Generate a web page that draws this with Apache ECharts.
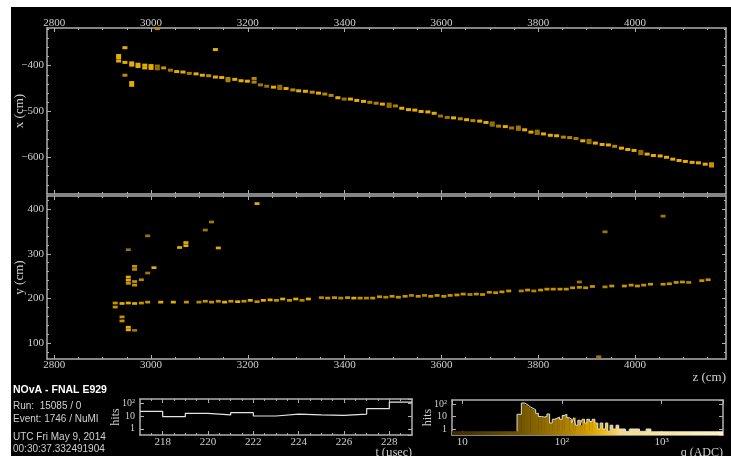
<!DOCTYPE html>
<html>
<head>
<meta charset="utf-8">
<script src="https://cdn.jsdelivr.net/npm/echarts@6/dist/echarts.min.js"></script>
<style>
  html, body { margin: 0; padding: 0; background: #fff; }
  #bg { position: absolute; left: 11px; top: 7px; width: 720px; height: 449px; background: #000; }
  #main { position: absolute; left: 0; top: 0; width: 731px; height: 456px; }
</style>
</head>
<body>
<div id="bg"></div>
<div id="main"></div>
<script>
// hits in the x-z view: [z (cm), x (cm), q (ADC)]
var xzHits = [
  [2946, -361, 220],
  [2933, -378, 220], [2933, -383, 220], [2933, -390, 220],
  [2946, -393, 220], [2946, -421, 130],
  [2960, -394, 220], [2960, -399, 220], [2960, -437, 220], [2960, -443, 220],
  [2973, -397, 220], [2973, -402, 220],
  [2987, -399, 220], [2987, -405, 220],
  [3000, -400, 220], [3000, -406, 220],
  [3013, -401, 70], [3013, -407, 70],
  [3026, -405, 150], [3040, -410, 90], [3053, -413, 220], [3066, -414, 220],
  [3079, -417, 100], [3093, -418, 220], [3106, -421, 220], [3119, -422, 130],
  [3133, -425, 220], [3146, -426, 220],
  [3159, -428, 110], [3159, -433, 110],
  [3173, -430, 220], [3186, -433, 220], [3199, -434, 220],
  [3213, -428, 120], [3213, -436, 120],
  [3226, -442, 90], [3239, -445, 80], [3253, -447, 220],
  [3266, -445, 70], [3266, -450, 70],
  [3279, -450, 220], [3293, -453, 130], [3305, -455, 220], [3319, -456, 220],
  [3333, -458, 140], [3346, -460, 220], [3359, -462, 120], [3372, -465, 120],
  [3386, -470, 220], [3399, -473, 90], [3412, -473, 220], [3425, -476, 220],
  [3439, -478, 220], [3452, -480, 110], [3465, -482, 110], [3478, -484, 220],
  [3492, -484, 70], [3492, -489, 70],
  [3505, -488, 110], [3518, -493, 220], [3532, -496, 220], [3545, -497, 220],
  [3558, -500, 220], [3572, -501, 220], [3585, -504, 220], [3598, -510, 80],
  [3612, -513, 90], [3625, -514, 220], [3639, -516, 120], [3652, -518, 220],
  [3665, -520, 120], [3679, -521, 220], [3692, -524, 220],
  [3705, -525, 70], [3705, -530, 70],
  [3718, -532, 110], [3732, -533, 220], [3745, -536, 90],
  [3759, -534, 80], [3759, -539, 80],
  [3772, -540, 220], [3785, -545, 220],
  [3798, -543, 70], [3798, -548, 70],
  [3811, -549, 220], [3825, -552, 220], [3838, -553, 220], [3852, -556, 120],
  [3865, -557, 120], [3878, -559, 100], [3892, -564, 220],
  [3905, -563, 70], [3905, -568, 70],
  [3918, -569, 220], [3932, -572, 220], [3945, -573, 220], [3958, -576, 120],
  [3972, -580, 220], [3985, -583, 220], [3998, -585, 220],
  [4012, -587, 70], [4012, -592, 70],
  [4025, -593, 220], [4038, -596, 220], [4052, -597, 220], [4065, -600, 220],
  [4078, -604, 220], [4091, -607, 220], [4104, -609, 220], [4118, -611, 220],
  [4131, -612, 220], [4145, -615, 220],
  [4158, -614, 150], [4158, -619, 150],
  [3133, -365, 220], [3013, -319, 130]
];

// hits in the y-z view: [z (cm), y (cm), q (ADC)]
var yzHits = [
  [2926, 190, 150], [2926, 181, 150],
  [2940, 189, 220], [2940, 159, 150], [2940, 150, 150],
  [2953, 190, 220], [2953, 248, 220], [2953, 241, 220], [2953, 234, 150],
  [2953, 309, 80], [2953, 136, 220], [2953, 130, 220],
  [2966, 189, 220], [2966, 129, 90], [2966, 272, 150], [2966, 265, 130],
  [2966, 238, 150], [2966, 230, 150],
  [2980, 190, 150], [2980, 242, 120],
  [2993, 192, 150], [2993, 257, 90], [2993, 340, 80],
  [3006, 269, 220], [3020, 192, 220], [3046, 192, 220], [3059, 314, 220],
  [3072, 325, 220], [3072, 318, 220], [3073, 192, 150],
  [3099, 192, 120], [3112, 194, 150], [3112, 353, 90],
  [3125, 192, 150], [3125, 371, 100], [3139, 313, 220], [3139, 194, 150],
  [3152, 192, 220], [3165, 194, 150], [3179, 193, 220], [3192, 194, 150],
  [3205, 196, 220], [3219, 193, 150], [3219, 412, 220], [3232, 196, 220],
  [3246, 197, 220], [3259, 196, 150], [3272, 199, 220], [3286, 196, 150],
  [3299, 199, 220], [3312, 196, 120], [3325, 199, 220],
  [3352, 202, 120], [3365, 201, 150], [3379, 202, 150], [3392, 201, 120],
  [3406, 202, 150], [3419, 201, 220], [3432, 201, 150], [3445, 201, 120],
  [3458, 201, 150], [3472, 204, 150], [3485, 203, 120], [3498, 205, 150],
  [3511, 203, 150], [3525, 205, 150], [3538, 207, 120], [3552, 205, 150],
  [3565, 207, 120], [3578, 205, 150], [3591, 207, 150], [3605, 205, 150],
  [3618, 207, 150], [3632, 208, 150], [3645, 210, 150], [3659, 209, 120],
  [3672, 210, 150], [3685, 209, 150], [3699, 214, 150], [3712, 213, 150],
  [3725, 215, 150], [3739, 217, 150], [3765, 217, 120], [3778, 219, 150],
  [3791, 217, 120], [3805, 219, 150], [3818, 221, 150], [3831, 221, 150],
  [3845, 221, 150], [3858, 221, 150], [3871, 224, 150], [3885, 225, 150],
  [3885, 237, 90], [3898, 224, 150], [3912, 227, 150], [3925, 70, 90],
  [3938, 226, 120], [3938, 349, 90], [3952, 228, 150], [3978, 228, 150],
  [3992, 230, 150], [4005, 228, 150], [4018, 230, 150], [4032, 232, 150],
  [4058, 232, 150], [4058, 384, 90], [4071, 233, 150], [4085, 236, 150],
  [4098, 237, 150], [4111, 236, 120], [4138, 240, 150], [4151, 242, 150]
];

// timing histogram, 1 usec bins
var tLow = [217, 218, 219, 220, 221, 222, 223, 224, 225, 226, 227, 228];
var tCount = [23, 9, 16, 12, 18, 10, 14, 12, 11, 14, 38, 120];
var tTop = 229;

// charge histogram
var qLow = [35.5, 39.2, 42.3, 45.7, 48.2, 51.3, 54.6, 58.0, 62.1, 67.1, 70.8, 75.3, 80.0, 84.5,
  89.8, 94.8, 100.7, 106.3, 112, 119, 126, 131, 137, 144.5, 152.5, 159.7, 168.5, 177.8,
  189, 201, 213.8, 229, 241.7, 257, 273.4, 288.4, 304, 323.6, 349, 371.5, 407, 433, 475,
  505, 540, 600, 700];
var qCount = [15, 120, 85, 60, 45, 35, 18, 10, 9, 10, 16, 3, 6, 7,
  9, 6, 12, 15, 8, 6, 3, 8, 2, 5, 2, 6, 3, 6,
  4, 6, 3, 1, 3, 1, 3, 0, 2, 1, 2, 1, 1, 0, 1,
  1, 1, 0, 1];
var qTop = 780;

// tick labels
var zTicks = [2800, 3000, 3200, 3400, 3600, 3800, 4000];
var xTicks = [-600, -500, -400];
var yTicks = [100, 200, 300, 400];
var tTicks = [218, 220, 222, 224, 226, 228];

var Z_RANGE = [2785, 4188];
var X_RANGE = [-680, -318];
var Y_RANGE = [65, 429];
var T_RANGE = [217, 229];
var Q_RANGE = [7.9, 4130];
var N_RANGE = [0.33, 210];
var Q_FLOOR = 0.65;

var SERIF = '"Liberation Serif", "DejaVu Serif", serif';
var SANS = '"Liberation Sans", "DejaVu Sans", sans-serif';
var FRAME = '#b0b0b0';
var TEXT = '#d0d0d0';

// charge colour scale
var palQ = [8, 35, 100, 200, 260, 400, 4000];
var palC = ['#3a2c04', '#6e5200', '#a67c00', '#dca400', '#f2bc10', '#f4dc8c', '#fff2c4'];

function rgb(h) {
  return [parseInt(h.substr(1, 2), 16), parseInt(h.substr(3, 2), 16), parseInt(h.substr(5, 2), 16)];
}
function qColor(q) {
  if (q <= palQ[0]) return palC[0];
  for (var i = 0; i < palQ.length - 1; i++) {
    if (q <= palQ[i + 1]) {
      var f = (Math.log(q) - Math.log(palQ[i])) / (Math.log(palQ[i + 1]) - Math.log(palQ[i]));
      var a = rgb(palC[i]), b = rgb(palC[i + 1]);
      return 'rgb(' + [0, 1, 2].map(function (k) { return Math.round(a[k] + (b[k] - a[k]) * f); }).join(',') + ')';
    }
  }
  return palC[palC.length - 1];
}

function steps(lo, hi, step, skip) {
  var out = [];
  for (var v = lo; v <= hi + 1e-9; v += step) {
    var r = Math.round(v * 100) / 100;
    if (skip.indexOf(r) < 0) out.push(r);
  }
  return out;
}
var zMinor = steps(2800, 4150, 50, zTicks);
var xMinor = steps(-660, -320, 20, xTicks);
var yMinor = steps(80, 420, 20, yTicks);
var tMinor = steps(217.5, 228.5, 0.5, tTicks);

var SUP = { 2: '\u00b2', 3: '\u00b3' };
function powLabel(v) {
  var l = Math.log10(v), e = Math.round(l);
  if (Math.abs(l - e) > 1e-6) return '';
  return e === 0 ? '1' : e === 1 ? '10' : '10' + SUP[e];
}
function plain(v) { return String(v).replace('-', '\u2212'); }

function frameAxis(grid, pos, type, range, ticks, len) {
  var ax = {
    type: type, gridIndex: grid, position: pos,
    min: range[0], max: range[1],
    axisLine: { show: len > 3, onZero: false, lineStyle: { color: FRAME, width: 1.5 } },
    axisTick: { show: true, inside: true, length: len, lineStyle: { color: FRAME, width: 1 } },
    axisLabel: { show: false },
    splitLine: { show: false },
    axisPointer: { show: false }
  };
  if (ticks) ax.axisTick.customValues = ticks;
  if (type === 'log') ax.logBase = 10;
  return ax;
}
function label(ax, opts) {
  ax.axisLabel = Object.assign({ show: true, color: TEXT, fontFamily: SERIF, fontSize: 11, formatter: plain }, opts);
  return ax;
}
function nameIt(ax, name, opts) {
  ax.name = name;
  ax.nameMoveOverlap = false;
  Object.assign(ax, opts);
  ax.nameTextStyle = Object.assign({ color: TEXT, fontFamily: SERIF, fontSize: 13 }, ax.nameTextStyle || {});
  return ax;
}

var xAxes = [
  // grid 0 : x-z view
  label(frameAxis(0, 'top', 'value', Z_RANGE, zTicks, 4), { customValues: zTicks, margin: -1 }),
  frameAxis(0, 'top', 'value', Z_RANGE, zMinor, 2),
  frameAxis(0, 'bottom', 'value', Z_RANGE, zTicks, 4),
  frameAxis(0, 'bottom', 'value', Z_RANGE, zMinor, 2),
  // grid 1 : y-z view
  nameIt(label(frameAxis(1, 'bottom', 'value', Z_RANGE, zTicks, 4), { customValues: zTicks, margin: 1 }),
    'z (cm)', { nameLocation: 'end', nameGap: 0, nameTextStyle: { align: 'right', verticalAlign: 'top', padding: [12, 0, 0, 0] } }),
  frameAxis(1, 'bottom', 'value', Z_RANGE, zMinor, 2),
  frameAxis(1, 'top', 'value', Z_RANGE, zTicks, 4),
  frameAxis(1, 'top', 'value', Z_RANGE, zMinor, 2),
  // grid 2 : time
  nameIt(label(frameAxis(2, 'bottom', 'value', T_RANGE, tTicks, 4), { customValues: tTicks, margin: 2, fontSize: 11 }),
    't (\u00b5sec)', { nameLocation: 'end', nameGap: 0, nameTextStyle: { fontSize: 12, align: 'right', verticalAlign: 'top', padding: [12, 0, 0, 0] } }),
  frameAxis(2, 'bottom', 'value', T_RANGE, tMinor, 2),
  frameAxis(2, 'top', 'value', T_RANGE, tTicks, 4),
  frameAxis(2, 'top', 'value', T_RANGE, tMinor, 2),
  // grid 3 : charge
  nameIt(label(frameAxis(3, 'bottom', 'log', Q_RANGE, null, 4), { formatter: powLabel, margin: 2, showMinLabel: false, showMaxLabel: false }),
    'q (ADC)', { nameLocation: 'end', nameGap: 0, nameTextStyle: { fontSize: 12, align: 'right', verticalAlign: 'top', padding: [12, 0, 0, 0] } }),
  frameAxis(3, 'top', 'log', Q_RANGE, null, 4)
];

var yAxes = [
  nameIt(label(frameAxis(0, 'left', 'value', X_RANGE, xTicks, 4), { customValues: xTicks, margin: 3 }),
    'x (cm)', { nameLocation: 'middle', nameGap: 21 }),
  frameAxis(0, 'left', 'value', X_RANGE, xMinor, 2),
  frameAxis(0, 'right', 'value', X_RANGE, xTicks, 4),
  frameAxis(0, 'right', 'value', X_RANGE, xMinor, 2),
  nameIt(label(frameAxis(1, 'left', 'value', Y_RANGE, yTicks, 4), { customValues: yTicks, margin: 3 }),
    'y (cm)', { nameLocation: 'middle', nameGap: 21 }),
  frameAxis(1, 'left', 'value', Y_RANGE, yMinor, 2),
  frameAxis(1, 'right', 'value', Y_RANGE, yTicks, 4),
  frameAxis(1, 'right', 'value', Y_RANGE, yMinor, 2),
  nameIt(label(frameAxis(2, 'left', 'log', N_RANGE, null, 4), { formatter: powLabel, margin: 5, fontSize: 10, showMinLabel: false, showMaxLabel: false }),
    'hits', { nameLocation: 'middle', nameGap: 18, nameTextStyle: { fontSize: 12 } }),
  frameAxis(2, 'right', 'log', N_RANGE, null, 4),
  nameIt(label(frameAxis(3, 'left', 'log', N_RANGE, null, 4), { formatter: powLabel, margin: 5, fontSize: 10, showMinLabel: false, showMaxLabel: false }),
    'hits', { nameLocation: 'middle', nameGap: 18, nameTextStyle: { fontSize: 12 } }),
  frameAxis(3, 'right', 'log', N_RANGE, null, 4)
];

function hitColor(p) { return qColor(p.value[2]); }

// gradient for the empty-bin strip of the charge histogram
var lq0 = Math.log(Q_RANGE[0]), lq1 = Math.log(Q_RANGE[1]);
var stripStops = palQ.map(function (q, i) {
  var o = (Math.log(q) - lq0) / (lq1 - lq0);
  return { offset: Math.min(1, Math.max(0, o)), color: palC[i] };
});

var qBins = qLow.map(function (lo, i) {
  return [lo, i + 1 < qLow.length ? qLow[i + 1] : qTop, qCount[i]];
});
var qOutline = [[qLow[0], Q_FLOOR]].concat(qLow.map(function (lo, i) {
  return [lo, Math.max(qCount[i], Q_FLOOR)];
}));
qOutline.push([qTop, Math.max(qCount[qCount.length - 1], Q_FLOOR)], [qTop, Q_FLOOR]);

var tLine = tLow.map(function (t, i) { return [t, tCount[i]]; });
tLine.push([tTop, tCount[tCount.length - 1]]);

var chart = echarts.init(document.getElementById('main'), null, { renderer: 'canvas' });
chart.setOption({
  backgroundColor: 'transparent',
  animation: false,
  grid: [
    { left: 47, top: 28, width: 679, height: 166, outerBoundsMode: 'none' },
    { left: 47, top: 196, width: 679, height: 163, outerBoundsMode: 'none' },
    { left: 140, top: 399, width: 272, height: 36, outerBoundsMode: 'none' },
    { left: 452, top: 400, width: 271, height: 35, outerBoundsMode: 'none' }
  ],
  xAxis: xAxes,
  yAxis: yAxes,
  graphic: [
    { type: 'text', x: 13, y: 390, style: { text: 'NOvA - FNAL E929', fill: '#ffffff', font: 'bold 10.5px ' + SANS, verticalAlign: 'middle' } },
    { type: 'text', x: 13, y: 406, style: { text: 'Run:  15085 / 0', fill: TEXT, font: '10px ' + SANS, verticalAlign: 'middle' } },
    { type: 'text', x: 13, y: 419, style: { text: 'Event: 1746 / NuMI', fill: TEXT, font: '10px ' + SANS, verticalAlign: 'middle' } },
    { type: 'text', x: 13, y: 437, style: { text: 'UTC Fri May 9, 2014', fill: TEXT, font: '10px ' + SANS, verticalAlign: 'middle' } },
    { type: 'text', x: 13, y: 449, style: { text: '00:30:37.332491904', fill: TEXT, font: '10px ' + SANS, verticalAlign: 'middle' } }
  ],
  series: [
    {
      type: 'scatter', xAxisIndex: 0, yAxisIndex: 0,
      symbol: 'rect', symbolSize: [5, 3],
      itemStyle: { color: hitColor, opacity: 1 },
      data: xzHits
    },
    {
      type: 'scatter', xAxisIndex: 4, yAxisIndex: 4,
      symbol: 'rect', symbolSize: [5, 2.7],
      itemStyle: { color: hitColor, opacity: 1 },
      data: yzHits
    },
    {
      type: 'line', xAxisIndex: 8, yAxisIndex: 8,
      step: 'end', symbol: 'none',
      lineStyle: { color: '#e4e4e4', width: 1.2 },
      data: tLine
    },
    {
      type: 'custom', xAxisIndex: 12, yAxisIndex: 10,
      data: [[Q_RANGE[0], Q_RANGE[1]]],
      renderItem: function (params, api) {
        var a = api.coord([api.value(0), Q_FLOOR]);
        var b = api.coord([api.value(1), N_RANGE[0]]);
        return {
          type: 'rect',
          shape: { x: a[0], y: a[1], width: b[0] - a[0], height: b[1] - a[1] },
          style: { fill: { type: 'linear', x: 0, y: 0, x2: 1, y2: 0, colorStops: stripStops } }
        };
      }
    },
    {
      type: 'custom', xAxisIndex: 12, yAxisIndex: 10,
      data: qBins,
      renderItem: function (params, api) {
        var n = api.value(2);
        if (!(n > 0)) return null;
        var a = api.coord([api.value(0), n]);
        var b = api.coord([api.value(1), N_RANGE[0]]);
        return {
          type: 'rect',
          shape: { x: a[0], y: a[1], width: b[0] - a[0] + 0.3, height: b[1] - a[1] },
          style: { fill: qColor(Math.sqrt(api.value(0) * api.value(1))) }
        };
      }
    },
    {
      type: 'line', xAxisIndex: 12, yAxisIndex: 10,
      step: 'end', symbol: 'none', z: 5,
      lineStyle: { color: '#dcdcdc', width: 1 },
      data: qOutline
    }
  ]
});
</script>
</body>
</html>
